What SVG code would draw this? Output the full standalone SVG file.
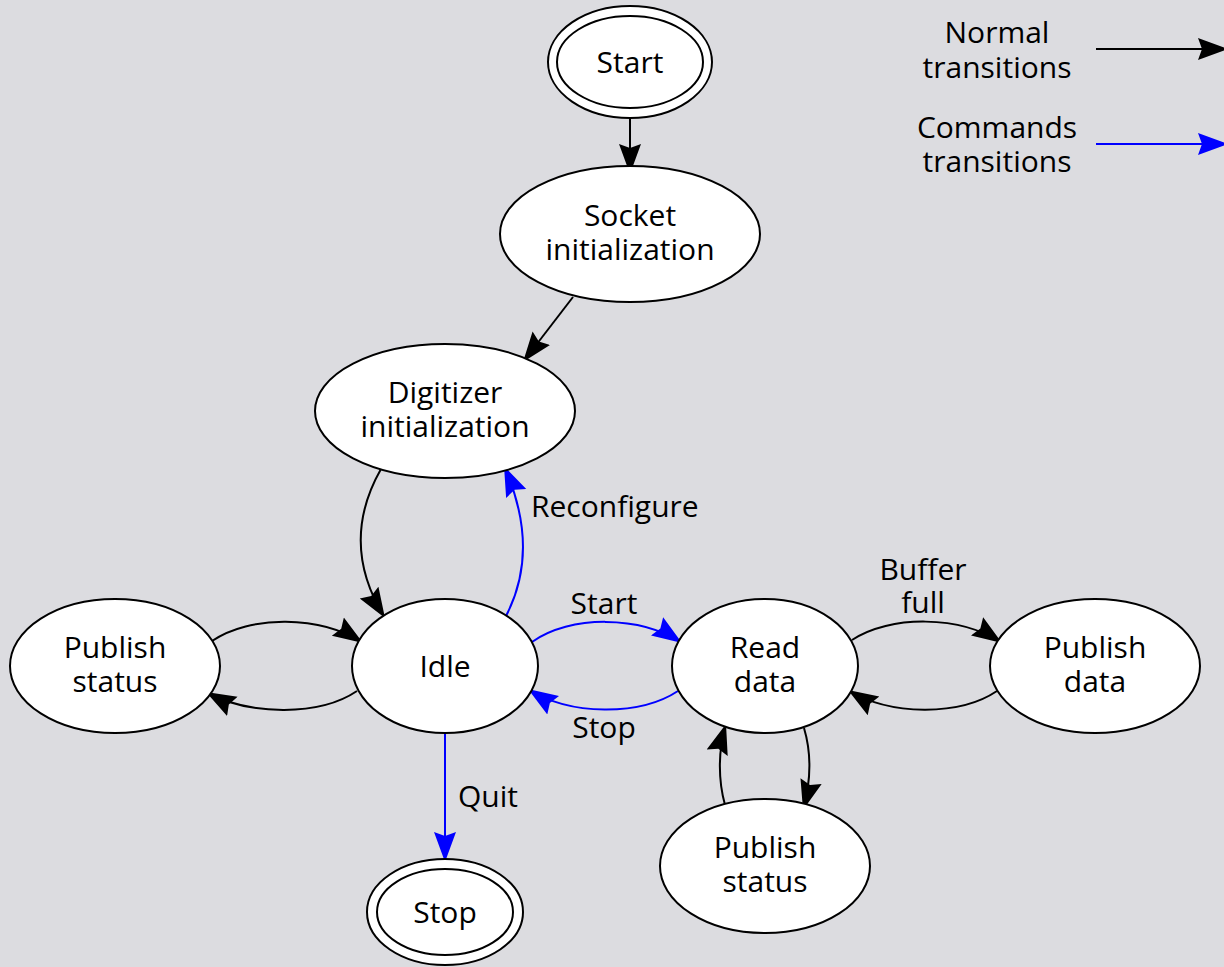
<svg xmlns="http://www.w3.org/2000/svg" width="1224" height="967" viewBox="0 0 1224 967">
<style>
.n{fill:#fff;stroke:#000;stroke-width:2}
.t{font-family:"Open Sans","Liberation Sans",sans-serif;font-size:30px;fill:#000;text-anchor:middle}
.l{font-family:"Open Sans","Liberation Sans",sans-serif;font-size:30px;fill:#000}
.k{fill:none;stroke:#000;stroke-width:2}
.b{fill:none;stroke:#0000ff;stroke-width:2}
</style>
<defs>
<marker id="ak" markerUnits="userSpaceOnUse" markerWidth="32" markerHeight="24" viewBox="0 0 32 24" refX="30" refY="12" orient="auto">
<path d="M0,1 L30,12 L0,23 L4,12 Z" fill="#000"/>
</marker>
<marker id="ab" markerUnits="userSpaceOnUse" markerWidth="32" markerHeight="24" viewBox="0 0 32 24" refX="30" refY="12" orient="auto">
<path d="M0,1 L30,12 L0,23 L4,12 Z" fill="#0000ff"/>
</marker>
</defs>
<rect width="1224" height="967" fill="#dcdce0"/>
<g id="legend">
<text class="t" x="997" y="43">Normal</text>
<text class="t" x="997" y="78">transitions</text>
<text class="t" x="997" y="138">Commands</text>
<text class="t" x="997" y="172">transitions</text>
<path class="k" d="M1096,49 L1228,49" marker-end="url(#ak)"/>
<path class="b" d="M1096,144 L1228,144" marker-end="url(#ab)"/>
</g>
<g id="connectors">
<path class="k" d="M630,118 L630,174" marker-end="url(#ak)"/>
<path class="k" d="M573,297 L523,362" marker-end="url(#ak)"/>
<path class="k" d="M381,469 C352,520 355,570 385,618" marker-end="url(#ak)"/>
<path class="b" d="M506,616 C530,570 528,520 504,466" marker-end="url(#ab)"/>
<path class="b" d="M532,642 C570,615 640,615 682,643" marker-end="url(#ab)"/>
<path class="b" d="M678,691 C640,716 570,716 528,689" marker-end="url(#ab)"/>
<path class="k" d="M212,641 C250,615 320,615 363,643" marker-end="url(#ak)"/>
<path class="k" d="M357,691 C320,716 250,716 206,692" marker-end="url(#ak)"/>
<path class="k" d="M852,640 C890,615 960,615 1002,643" marker-end="url(#ak)"/>
<path class="k" d="M997,691 C960,716 890,716 848,690" marker-end="url(#ak)"/>
<path class="k" d="M804,728 C812,755 810,785 803,810" marker-end="url(#ak)"/>
<path class="k" d="M725,805 C718,780 718,750 726,724" marker-end="url(#ak)"/>
<path class="b" d="M445,733 L445,862" marker-end="url(#ab)"/>
<text class="l" x="531" y="517">Reconfigure</text>
<text class="t" x="604" y="614">Start</text>
<text class="t" x="604" y="738">Stop</text>
<text class="t" x="923" y="580">Buffer</text>
<text class="t" x="923" y="613">full</text>
<text class="l" x="458" y="807">Quit</text>
</g>
<g id="start">
<ellipse class="n" cx="630" cy="62" rx="82" ry="56"/>
<ellipse class="n" cx="630" cy="62" rx="73" ry="46"/>
<text class="t" x="630" y="73">Start</text>
</g>
<g id="socket">
<ellipse class="n" cx="630" cy="234" rx="130" ry="68"/>
<text class="t" x="630" y="226">Socket</text>
<text class="t" x="630" y="260">initialization</text>
</g>
<g id="digitizer">
<ellipse class="n" cx="445" cy="411" rx="130" ry="67"/>
<text class="t" x="445" y="403">Digitizer</text>
<text class="t" x="445" y="437">initialization</text>
</g>
<g id="idle">
<ellipse class="n" cx="445" cy="666" rx="93" ry="67"/>
<text class="t" x="445" y="677">Idle</text>
</g>
<g id="pubstatus1">
<ellipse class="n" cx="115" cy="666" rx="105" ry="67"/>
<text class="t" x="115" y="658">Publish</text>
<text class="t" x="115" y="692">status</text>
</g>
<g id="readdata">
<ellipse class="n" cx="765" cy="666" rx="93" ry="67"/>
<text class="t" x="765" y="658">Read</text>
<text class="t" x="765" y="692">data</text>
</g>
<g id="pubdata">
<ellipse class="n" cx="1095" cy="666" rx="105" ry="67"/>
<text class="t" x="1095" y="658">Publish</text>
<text class="t" x="1095" y="692">data</text>
</g>
<g id="pubstatus2">
<ellipse class="n" cx="765" cy="866" rx="105" ry="67"/>
<text class="t" x="765" y="858">Publish</text>
<text class="t" x="765" y="892">status</text>
</g>
<g id="stop">
<ellipse class="n" cx="445" cy="912" rx="78" ry="53"/>
<ellipse class="n" cx="445" cy="912" rx="68" ry="43"/>
<text class="t" x="445" y="923">Stop</text>
</g>
</svg>
